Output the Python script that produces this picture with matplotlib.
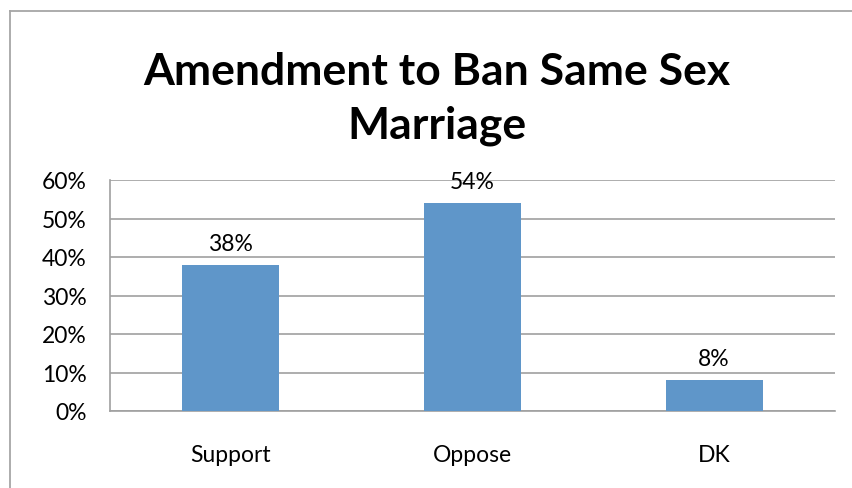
import matplotlib
matplotlib.use('Agg')
import matplotlib.pyplot as plt
from matplotlib.lines import Line2D
from matplotlib.ticker import FuncFormatter

categories = ['Support', 'Oppose', 'DK']
shares = [38, 54, 8]
yticks = [0, 10, 20, 30, 40, 50, 60]

plt.rcParams['font.family'] = ['Lato', 'DejaVu Sans']

W, H = 852, 489
fig = plt.figure(figsize=(W / 100, H / 100), dpi=100)
fig.patch.set_facecolor('white')

# chart frame (left and top edges visible)
fig.add_artist(Line2D([10 / W, 10 / W], [0, 1 - 12 / H], color='#a6a6a6', lw=1.3))
fig.add_artist(Line2D([10 / W, 1], [1 - 12 / H, 1 - 12 / H], color='#a6a6a6', lw=1.3))

left, right, top, bottom = 110, 835, 181, 412
ax = fig.add_axes([left / W, 1 - bottom / H, (right - left) / W, (bottom - top) / H])

x = range(len(categories))
ax.bar(x, shares, width=0.4, color='#5f96c9', zorder=3)
ax.set_xlim(-0.5, len(categories) - 0.5)
ax.set_ylim(0, 60)
ax.set_yticks(yticks)
ax.yaxis.set_major_formatter(FuncFormatter(lambda v, p: f'{v:.0f}%'))
ax.set_xticks(list(x))
ax.set_xticklabels(categories)
ax.grid(axis='y', color='#a0a0a0', lw=1.2, zorder=0)
ax.tick_params(axis='both', length=0, labelsize=16.5, colors='black')
ax.tick_params(axis='x', pad=24)
ax.tick_params(axis='y', pad=17)
for s in ['top', 'right']:
    ax.spines[s].set_visible(False)
for s in ['left', 'bottom']:
    ax.spines[s].set_color('#a0a0a0')
    ax.spines[s].set_linewidth(1.2)

for i, v in enumerate(shares):
    ax.annotate(f'{v}%', (i, v), xytext=(0, 8), textcoords='offset points',
                ha='center', va='bottom', fontsize=16.5)

fig.text(437 / W, 1 - 99 / H, 'Amendment to Ban Same Sex\nMarriage', ha='center', va='center',
         fontsize=32, fontweight='bold', linespacing=1.42)

fig.savefig('out.png', dpi=100)
plt.close('all')
